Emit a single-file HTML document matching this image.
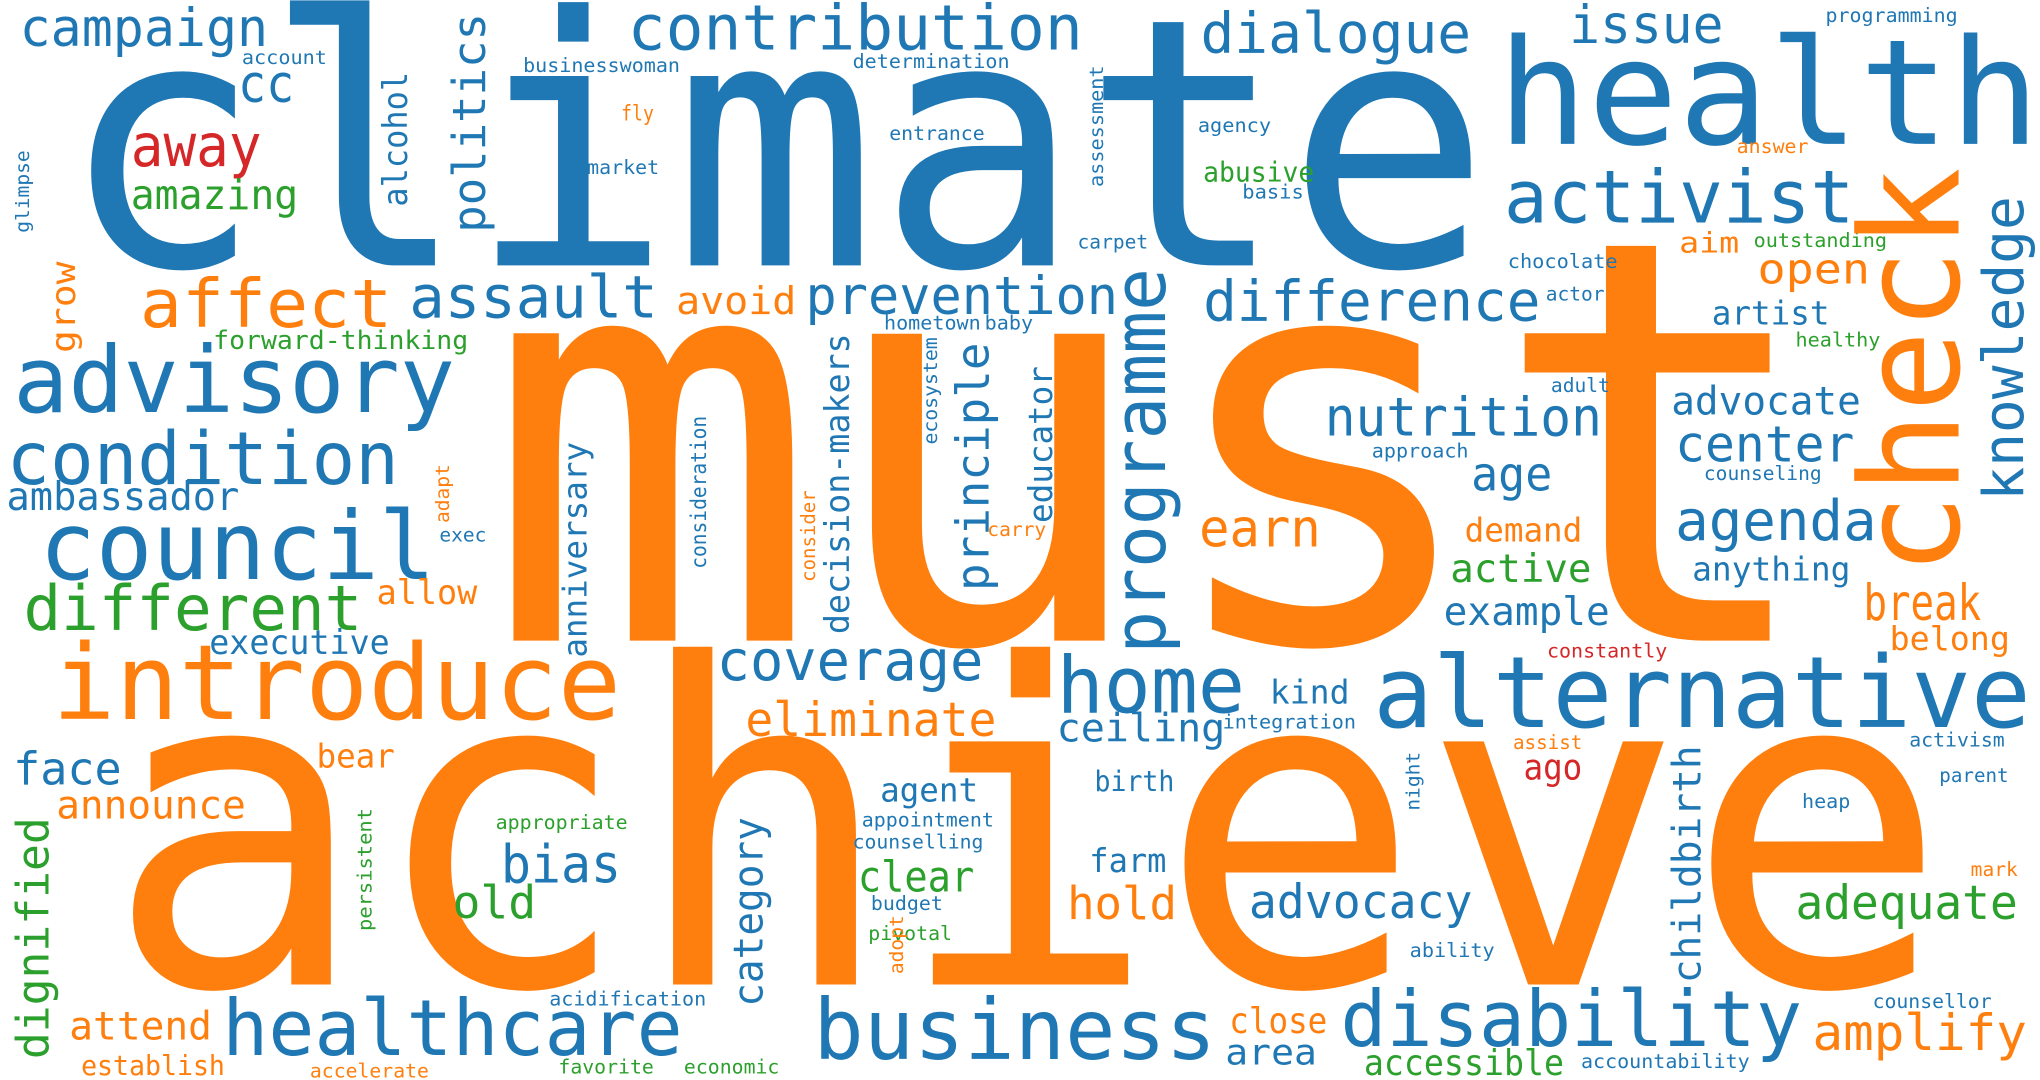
<!DOCTYPE html>
<html><head><meta charset="utf-8">
<style>
html,body{margin:0;padding:0;background:#fff;width:2040px;height:1080px;overflow:hidden;}
svg{display:block;}
text{font-family:"DejaVu Sans Mono","Liberation Mono",monospace;}
</style></head>
<body>
<svg id="cloud" width="2040" height="1080" viewBox="0 0 1560 826" preserveAspectRatio="none" xmlns="http://www.w3.org/2000/svg">
<rect width="1560" height="826" fill="#fff"/>
</svg>
<script>
const B="#1f77b4",O="#ff7f0e",G="#2ca02c",R="#d62728";
// horizontal words: [text, left, baseline, width, fontSize, color]
const words=[
["climate",45,203,1095,265,B],["must",370,490,1025,430,O],["achieve",80,753,1410,340,O],
["campaign",15,35,190,40,B],["account",185,49,65,14,B],["cc",182,78,43,40,B],["away",100,127,100,45,R],
["amazing",100,160,128,31,G],["businesswoman",400,55,120,15,B],["contribution",480,38,348,48,B],
["determination",652,52,120,15,B],["fly",475,92,25,16,O],["entrance",680,107,73,15,B],["market",449,133,55,15,B],
["dialogue",918,40,207,43,B],["issue",1200,33,118,40,B],["programming",1396,17,101,15,B],["health",1145,110,415,112,B],
["agency",916,101,56,15,B],["answer",1328,117,55,15,O],["abusive",920,139,85,21,G],["basis",950,152,47,15,B],
["activist",1150,170,268,56,B],["carpet",824,190,54,15,B],["chocolate",1153,205,84,15,B],["actor",1182,230,45,15,B],
["aim",1284,193,46,22,O],["outstanding",1341,189,102,15,G],["open",1344,217,86,32,O],["artist",1309,248,90,25,B],
["healthy",1373,265,65,15,G],["adult",1186,300,45,15,B],["affect",107,250,193,51,O],["assault",313,243,190,45,B],
["avoid",517,240,92,29,O],["prevention",616,240,239,40,B],["difference",920,245,258,43,B],["forward-thinking",163,267,195,20,G],
["hometown",676,252,74,15,B],["baby",753,252,37,15,B],["advisory",10,315,338,70,B],["condition",5,370,300,56,B],
["ambassador",5,390,178,30,B],["council",30,443,303,72,B],["different",18,482,259,48,G],["executive",160,500,138,26,B],
["allow",288,462,77,26,O],["exec",336,414,36,15,B],["carry",755,410,45,15,O],["earn",917,418,93,40,O],
["nutrition",1013,333,212,41,B],["approach",1049,350,74,15,B],["age",1125,375,62,36,B],["advocate",1278,317,145,30,B],
["center",1281,353,137,38,B],["counseling",1303,367,90,15,B],["agenda",1281,413,154,43,B],["demand",1120,414,90,25,O],
["active",1109,445,108,30,G],["anything",1294,444,121,25,B],["example",1104,478,127,30,B],["break",1425,474,90,38,O],
["belong",1445,497,92,25,O],["constantly",1183,503,92,15,R],["introduce",40,550,435,80,O],["coverage",548,520,204,43,B],
["eliminate",570,563,192,36,O],["home",808,545,144,60,B],["kind",971,538,61,25,B],["alternative",1050,556,503,76,B],
["ceiling",808,567,129,30,B],["integration",935,557,102,15,B],["face",10,600,83,35,B],["bear",242,587,60,25,O],
["announce",43,626,145,30,O],["appropriate",379,634,101,15,G],["bias",383,675,92,40,B],["old",346,702,64,35,G],
["agent",673,613,75,25,B],["appointment",659,632,101,15,B],["counselling",652,649,100,15,B],["clear",656,682,89,33,G],
["budget",666,696,55,15,B],["pivotal",664,719,64,15,G],["birth",837,605,61,22,B],["farm",833,667,59,25,B],
["hold",816,703,84,35,O],["assist",1157,573,53,15,O],["ago",1165,596,45,27,R],["activism",1460,571,73,15,B],
["parent",1483,598,53,15,B],["heap",1378,618,37,15,B],["mark",1507,670,36,15,O],["advocacy",955,702,171,36,B],
["adequate",1373,703,170,36,G],["ability",1078,732,65,15,B],["healthcare",170,807,352,59,B],["business",622,810,308,64,B],
["attend",53,795,109,30,O],["establish",62,822,110,21,O],["acidification",420,769,120,15,B],["accelerate",237,824,91,15,O],
["favorite",427,821,73,15,G],["economic",523,821,73,15,G],["close",940,790,75,27,O],["area",937,814,70,27,B],
["disability",1025,800,353,59,B],["accessible",1043,822,153,27,G],["accountability",1209,817,129,15,B],
["counsellor",1432,771,91,15,B],["amplify",1386,803,164,38,O]
];
// vertical words (read bottom-to-top): [text, left, top, bottom, fontSize, color]
const vwords=[
["glimpse",12,115,178,14,B],["alcohol",292,55,158,26,B],["politics",345,10,178,35,B],["assessment",833,50,143,14,B],
["check",1420,128,440,105,O],["knowledge",1515,150,383,43,B],["grow",38,200,270,26,O],["programme",850,205,500,55,B],
["adapt",333,355,400,14,O],["anniversary",430,338,503,25,B],["consideration",528,318,435,16,B],["decision-makers",630,255,485,26,B],
["principle",730,262,452,35,B],["educator",786,280,400,25,B],["ecosystem",706,258,340,14,B],["consider",612,375,445,15,O],
["dignified",12,625,810,34,G],["persistent",273,618,712,15,G],["category",560,625,770,31,B],["adopt",680,700,745,14,O],
["night",1075,575,620,14,B],["childbirth",1278,570,752,30,B]
];
const svg=document.getElementById('cloud');
const NS="http://www.w3.org/2000/svg";
function slug(s){return s.replace(/[^a-z0-9]+/gi,'-').toLowerCase();}
words.forEach(w=>{
  const t=document.createElementNS(NS,'text');
  t.setAttribute('x',w[1]);t.setAttribute('y',w[2]);
  t.setAttribute('font-size',w[4]);t.setAttribute('fill',w[5]);
  t.setAttribute('textLength',w[3]);t.setAttribute('lengthAdjust','spacingAndGlyphs');
  t.textContent=w[0];
  
  
  svg.appendChild(t);
});
vwords.forEach(w=>{
  const t=document.createElementNS(NS,'text');
  const bx=w[1]+0.74*w[4];
  t.setAttribute('transform','translate('+bx+','+w[3]+') rotate(-90)');
  t.setAttribute('x',0);t.setAttribute('y',0);
  t.setAttribute('font-size',w[4]);t.setAttribute('fill',w[5]);
  t.setAttribute('textLength',w[3]-w[2]);t.setAttribute('lengthAdjust','spacingAndGlyphs');
  t.textContent=w[0];
  
  
  svg.appendChild(t);
});
</script>
</body></html>
